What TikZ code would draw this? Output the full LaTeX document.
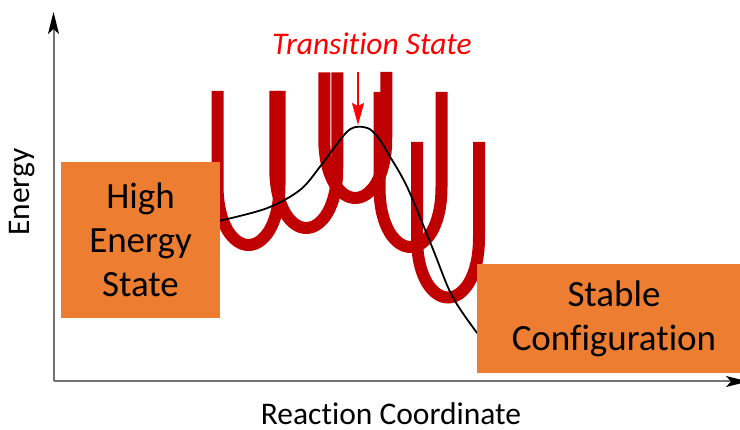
\documentclass[tikz,border=0pt]{standalone}
\usepackage{fontspec}
\setmainfont{Carlito}[Ligatures=NoCommon]
\usetikzlibrary{arrows.meta}

\definecolor{boxorange}{HTML}{ED7D31}
\definecolor{welldark}{HTML}{C00000}
\definecolor{tsred}{HTML}{FF0000}

\begin{document}
\begin{tikzpicture}[x=1pt, y=-1pt,
    statebox/.style={fill=boxorange, align=center, inner sep=0pt, font=\fontsize{37}{44}\selectfont},
    axis/.style={draw=black!55, line width=2pt, -{Stealth[length=22pt, width=11pt, inset=5pt, color=black]}},
    well/.style={draw=welldark, line width=12pt},
    energy/.style={draw=black, line width=1.8pt},
    tsarrow/.style={draw=tsred, line width=1.3pt, -{Stealth[length=22pt, width=12pt, inset=3pt]}},
    axislabel/.style={inner sep=0pt, font=\fontsize{31.5}{38}\selectfont}]

    \useasboundingbox (0,0) rectangle (740,430);

    % axes
    \coordinate (origin) at (53.5,381.5);
    \coordinate (ytip) at (53.5,12);
    \coordinate (xtip) at (748,381.5);
    \draw [axis] (origin) -- (ytip);
    \draw [axis] (origin) -- (xtip);

    \node (ylabel) [axislabel, rotate=90] at (22,192) {Energy};
    \node (xlabel) [axislabel] at (391,414) {Reaction Coordinate};

    % potential wells: centre / bottom / left top / right top
    \foreach \cx/\bot/\tl/\tr in {248.5/245/91/91, 306.25/228/91/72.5, 355.25/198/72.5/72,
                                  410.5/247/92/92, 448/297.5/142/142} {
        \draw [well] (\cx-31,\tl) -- (\cx-31,\bot-60)
            .. controls (\cx-31,\bot-20) and (\cx-15,\bot) .. (\cx,\bot)
            .. controls (\cx+15,\bot) and (\cx+31,\bot-20) .. (\cx+31,\bot-60)
            -- (\cx+31,\tr);
    }

    % reaction path over the barrier
    \draw [energy] plot[smooth, tension=0.55] coordinates {(220,220.7) (266.7,208.3) (300,190)
        (320,166.7) (340,140) (350,129.3) (359,126.7) (370,129.3) (380,140) (390,156.7)
        (400,173.3) (410,193.3) (432.5,248) (448.3,288) (460,309) (477.3,333.3)};

    \node (high) [statebox, minimum width=159pt, minimum height=156pt] at (140.5,240) {High\\Energy\\State};
    \node (stable) [statebox, minimum width=274pt, minimum height=109pt] at (614,318.5) {Stable\\Configuration};

    \node (ts) [text=tsred, font=\fontsize{31.5}{38}\selectfont\itshape] at (372,44) {Transition State};
    \coordinate (tstop) at (358,72);
    \coordinate (peak) at (358,125);
    \draw [tsarrow] (tstop) -- (peak);
\end{tikzpicture}
\end{document}
